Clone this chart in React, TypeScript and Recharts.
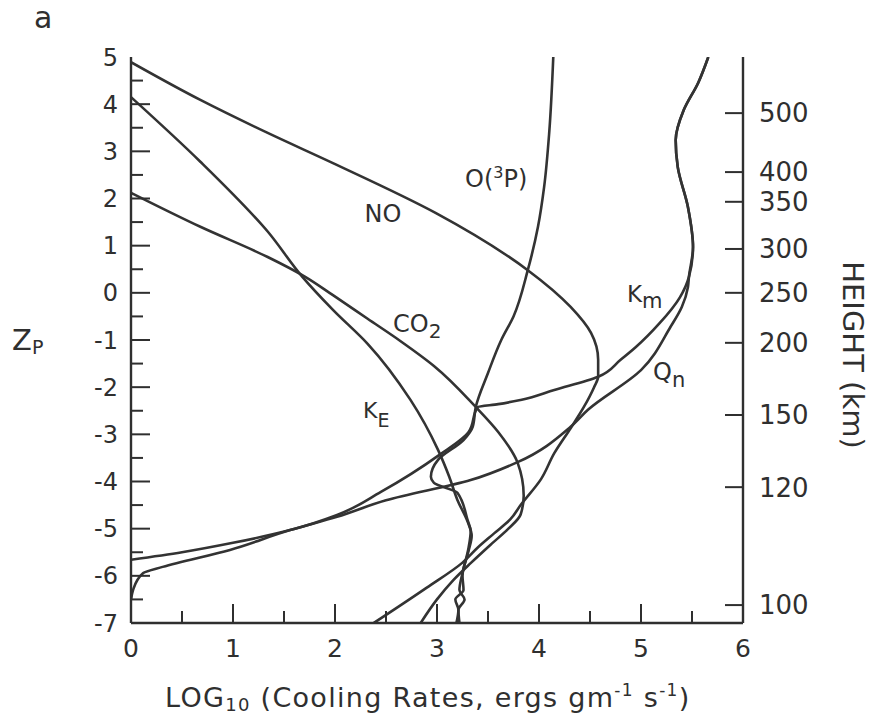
import React from 'react'
import { LineChart, Line, XAxis, YAxis } from 'recharts'

// log10 cooling rate (x) against pressure level Zp (y)
const noRate = [0, 0.68, 1.34, 1.98, 2.99, 3.89, 4.31, 4.51, 4.58, 4.58, 4.54, 4.44, 4.31, 4.15, 4.02, 3.82, 3.72, 3.56, 3.4, 3.25, 2.9, 2.38]
const noZp = [4.89, 4.09, 3.39, 2.75, 1.69, 0.48, -0.3, -0.85, -1.42, -1.78, -2.0, -2.42, -2.87, -3.4, -3.95, -4.5, -4.8, -5.1, -5.4, -5.72, -6.25, -7.0]

const co2Rate = [0, 0.68, 1.34, 1.7, 1.98, 2.32, 2.64, 2.97, 3.38, 3.6, 3.79, 3.85, 3.82, 3.7, 3.52, 3.33, 3.16, 3.0, 2.84]
const co2Zp = [2.12, 1.4, 0.76, 0.35, -0.05, -0.55, -1.02, -1.55, -2.42, -2.95, -3.6, -4.3, -4.7, -5.0, -5.35, -5.73, -6.09, -6.5, -7.0]

const keRate = [0, 0.68, 1.34, 1.68, 1.98, 2.32, 2.74, 3.01, 3.12, 3.2, 3.3, 3.34, 3.31, 3.25, 3.26, 3.18, 3.21, 3.19]
const keZp = [4.15, 2.78, 1.3, 0.34, -0.36, -1.08, -2.27, -3.33, -3.9, -4.39, -4.85, -5.15, -5.47, -6.0, -6.3, -6.5, -6.72, -7.0]

const oRate = [4.14, 4.1, 4.05, 3.99, 3.89, 3.75, 3.63, 3.5, 3.38, 3.35, 3.26, 3.01, 2.94, 2.97, 3.2, 3.3, 3.33, 3.31, 3.25, 3.22, 3.27, 3.21, 3.22]
const oZp = [5.0, 3.39, 2.24, 1.4, 0.48, -0.5, -1.0, -1.7, -2.42, -2.84, -3.12, -3.54, -3.9, -4.03, -4.24, -4.82, -5.05, -5.4, -5.94, -6.3, -6.5, -6.72, -7.0]

const kmRate = [5.66, 5.56, 5.42, 5.34, 5.36, 5.46, 5.51, 5.47, 5.38, 5.18, 4.95, 4.8, 4.58, 4.15, 3.82, 3.6, 3.4, 3.31, 3.02, 2.45, 2.02, 1.56, 1.0, 0.5, 0]
const kmZp = [5.0, 4.45, 3.88, 3.24, 2.67, 1.82, 0.97, 0.34, -0.1, -0.65, -1.15, -1.42, -1.78, -2.06, -2.27, -2.36, -2.42, -2.95, -3.44, -4.22, -4.71, -5.03, -5.3, -5.5, -5.66]

const qnRate = [5.66, 5.56, 5.42, 5.34, 5.36, 5.46, 5.51, 5.47, 5.46, 5.4, 5.29, 5.0, 4.48, 4.31, 3.79, 3.33, 2.5, 2.02, 1.56, 0.97, 0.31, 0.12, 0.02, 0]
const qnZp = [5.0, 4.45, 3.88, 3.24, 2.67, 1.82, 0.97, 0.34, 0.12, -0.3, -0.72, -1.64, -2.48, -2.84, -3.59, -3.97, -4.4, -4.75, -5.03, -5.45, -5.81, -5.94, -6.3, -6.51]

const rateTicks = [0, 0.5, 1, 1.5, 2, 2.5, 3, 3.5, 4, 4.5, 5, 5.5, 6]
const zpTicks = [5, 4.5, 4, 3.5, 3, 2.5, 2, 1.5, 1, 0.5, 0, -0.5, -1, -1.5, -2, -2.5, -3, -3.5, -4, -4.5, -5, -5.5, -6, -6.5, -7]
const heightKm = [500, 400, 350, 300, 250, 200, 150, 120, 100]
const heightZp = [3.81, 2.56, 1.93, 0.93, 0, -1.06, -2.59, -4.12, -6.62]

const toPoints = (xs: number[], zs: number[]) => xs.map((x, i) => ({ x, z: zs[i] }))

const series = [
  { key: 'no', data: toPoints(noRate, noZp) },
  { key: 'co2', data: toPoints(co2Rate, co2Zp) },
  { key: 'ke', data: toPoints(keRate, keZp) },
  { key: 'o3p', data: toPoints(oRate, oZp) },
  { key: 'km', data: toPoints(kmRate, kmZp) },
  { key: 'qn', data: toPoints(qnRate, qnZp) },
]

const INK = '#2f2f2f'
const FONT = '"DejaVu Sans", sans-serif'

const fmt = (v: number) => (v < 0 ? `-${-v}` : `${v}`)

function BottomTick({ x, y, payload }: any) {
  const v = payload.value
  const major = Number.isInteger(v)
  return (
    <g>
      {v > 0 && v < 6 && <line x1={x} x2={x} y1={y} y2={y - (major ? 19 : 12)} stroke={INK} strokeWidth={2} />}
      {major && (
        <text x={x} y={y + 34} textAnchor="middle" fontSize={25} fontFamily={FONT} fill={INK}>
          {v}
        </text>
      )}
    </g>
  )
}

function TopTick({ x, y, payload }: any) {
  const v = payload.value
  if (v <= 0 || v >= 6) return <g />
  return <line x1={x} x2={x} y1={y} y2={y + (Number.isInteger(v) ? 19 : 12)} stroke={INK} strokeWidth={2} />
}

function LeftTick({ x, y, payload }: any) {
  const v = payload.value
  const major = Number.isInteger(v)
  return (
    <g>
      {v > -7 && v < 5 && <line x1={x} x2={x + (major ? 19 : 12)} y1={y} y2={y} stroke={INK} strokeWidth={2} />}
      {major && (
        <text x={x - 13} y={y} dy="0.36em" textAnchor="end" fontSize={24} fontFamily={FONT} fill={INK}>
          {fmt(v)}
        </text>
      )}
    </g>
  )
}

function RightTick({ x, y, payload }: any) {
  const i = heightZp.indexOf(payload.value)
  return (
    <g>
      <line x1={x} x2={x - 18} y1={y} y2={y} stroke={INK} strokeWidth={2} />
      <text x={x + 16} y={y} dy="0.36em" textAnchor="start" fontSize={26} fontFamily={FONT} fill={INK}>
        {heightKm[i]}
      </text>
    </g>
  )
}

function Annotations() {
  const t = { fontFamily: FONT, fill: INK }
  return (
    <svg width={872} height={723} style={{ position: 'absolute', left: 0, top: 0, pointerEvents: 'none' }}>
      <text x={34} y={28} fontSize={30} {...t}>a</text>
      <text x={12} y={350} fontSize={29} {...t}>
        Z<tspan fontSize={19} dy={4}>P</tspan>
      </text>
      <text x={383} y={222} fontSize={24} textAnchor="middle" {...t}>NO</text>
      <text x={465} y={187} fontSize={24} {...t}>
        O(<tspan fontSize={16} dy={-9}>3</tspan><tspan dy={9}>P)</tspan>
      </text>
      <text x={393} y={332} fontSize={24} {...t}>
        CO<tspan fontSize={20} dy={6}>2</tspan>
      </text>
      <text x={363} y={418} fontSize={22} {...t}>
        K<tspan fontSize={19} dy={9}>E</tspan>
      </text>
      <text x={627} y={302} fontSize={23} {...t}>
        K<tspan fontSize={21} dy={6}>m</tspan>
      </text>
      <text x={653} y={380} fontSize={24} {...t}>
        Q<tspan fontSize={21} dy={7}>n</tspan>
      </text>
      <text x={165} y={707} fontSize={27} letterSpacing={1.3} {...t}>
        LOG<tspan fontSize={18} dy={4}>10</tspan>
        <tspan dy={-4}> (Cooling Rates, ergs gm</tspan>
        <tspan fontSize={17} dy={-11}>-1</tspan>
        <tspan dy={11}> s</tspan>
        <tspan fontSize={17} dy={-11}>-1</tspan>
        <tspan dy={11}>)</tspan>
      </text>
      <text x={843} y={355} fontSize={29} textAnchor="middle" transform="rotate(90 843 355)" {...t}>
        HEIGHT (km)
      </text>
    </svg>
  )
}

export default function App() {
  return (
    <div style={{ position: 'absolute', left: 0, top: 0, width: 872, height: 723, background: '#fff' }}>
      <LineChart width={872} height={723} margin={{ top: 57, right: 19, bottom: 70, left: 71 }}>
        <XAxis
          xAxisId="bottom"
          dataKey="x"
          type="number"
          domain={[0, 6]}
          ticks={rateTicks}
          interval={0}
          height={30}
          tickSize={0}
          tickMargin={0}
          tickLine={false}
          axisLine={{ stroke: INK, strokeWidth: 2.4 }}
          tick={<BottomTick />}
          allowDataOverflow
        />
        <XAxis
          xAxisId="top"
          orientation="top"
          dataKey="x"
          type="number"
          domain={[0, 6]}
          ticks={rateTicks}
          interval={0}
          height={0}
          tickSize={0}
          tickMargin={0}
          tickLine={false}
          axisLine={{ stroke: INK, strokeWidth: 2.4 }}
          tick={<TopTick />}
          allowDataOverflow
        />
        <YAxis
          yAxisId="left"
          dataKey="z"
          type="number"
          domain={[-7, 5]}
          ticks={zpTicks}
          interval={0}
          width={60}
          tickSize={0}
          tickMargin={0}
          tickLine={false}
          axisLine={{ stroke: INK, strokeWidth: 2.4 }}
          tick={<LeftTick />}
          allowDataOverflow
        />
        <YAxis
          yAxisId="right"
          orientation="right"
          type="number"
          domain={[-7, 5]}
          ticks={heightZp}
          interval={0}
          width={110}
          tickSize={0}
          tickMargin={0}
          tickLine={false}
          axisLine={{ stroke: INK, strokeWidth: 2.4 }}
          tick={<RightTick />}
          allowDataOverflow
        />
        {series.map((s) => (
          <Line
            key={s.key}
            xAxisId="bottom"
            yAxisId="left"
            data={s.data}
            dataKey="z"
            type="monotoneY"
            stroke="#333"
            strokeWidth={2.6}
            dot={false}
            activeDot={false}
            isAnimationActive={false}
          />
        ))}
      </LineChart>
      <Annotations />
    </div>
  )
}
